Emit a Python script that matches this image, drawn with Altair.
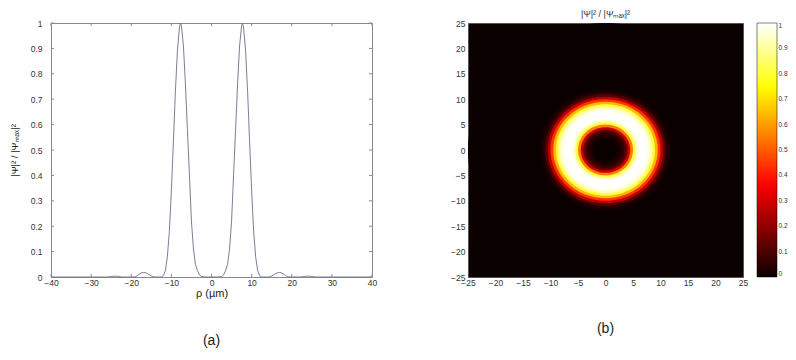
import altair as alt
import pandas as pd

# radial intensity profile |psi|^2/|psi_max|^2, rho >= 0 (um)
RHO = [0, 0.5, 1, 1.5, 2, 2.5, 3, 3.5, 4, 4.5, 5, 5.5, 6, 6.5, 7, 7.5, 7.75,
       8, 8.5, 9, 9.5, 10, 10.5, 11, 11.5, 12, 12.5, 13, 13.5, 14, 14.5, 15,
       15.5, 16, 16.5, 17, 17.5, 18, 18.5, 19, 19.5, 20, 21, 22, 22.5, 23,
       23.5, 24, 24.5, 25, 25.5, 26, 30, 35, 40]
INT = [0, 0, 0, 0, 0.001, 0.002, 0.008, 0.025, 0.05, 0.11, 0.22, 0.40, 0.58,
       0.76, 0.91, 0.99, 1.0,
       0.98, 0.89, 0.73, 0.53, 0.34, 0.18, 0.08, 0.025, 0.005, 0, 0, 0, 0,
       0.001, 0.004, 0.009, 0.014, 0.017, 0.018, 0.016, 0.011, 0.005, 0.001,
       0, 0, 0, 0, 0.0005, 0.002, 0.003, 0.003, 0.003, 0.002, 0.001, 0, 0, 0, 0]

# radial profile of the ring in panel (b), r in um
R_B = [0, 1, 2, 2.5, 3, 3.5, 4, 4.5, 5, 5.5, 6, 6.5, 7, 7.5, 8, 8.5, 9, 9.5,
       10, 10.5, 11, 11.5, 12, 12.5, 13, 25]
I_B = [0, 0, 0, 0.01, 0.03, 0.06, 0.12, 0.28, 0.55, 0.82, 0.95, 1.0, 1.0,
       1.0, 0.98, 0.93, 0.82, 0.64, 0.44, 0.26, 0.11, 0.04, 0.01, 0, 0, 0]

X_TICKS_A = [-40, -30, -20, -10, 0, 10, 20, 30, 40]
Y_TICKS_A = [0, 0.1, 0.2, 0.3, 0.4, 0.5, 0.6, 0.7, 0.8, 0.9, 1]
TICKS_B = [-25, -20, -15, -10, -5, 0, 5, 10, 15, 20, 25]
CBAR_TICKS = [0, 0.1, 0.2, 0.3, 0.4, 0.5, 0.6, 0.7, 0.8, 0.9, 1]

HOT_DOMAIN = [0, 0.365, 0.746, 1]
HOT_RANGE = ["#0b0000", "#ff0000", "#ffff00", "#ffffff"]

TITLE_PSI = "|Ψ|² / |Ψₘₐₓ|²"

FONT = "Liberation Sans"
W_A, W_B, H = 321, 275, 254

# ---------- panel (a) ----------
rho_full = [-r for r in reversed(RHO[1:])] + RHO
int_full = list(reversed(INT[1:])) + INT
df_line = pd.DataFrame({"rho": rho_full, "I": int_full})
df_xt = pd.DataFrame({"rho": X_TICKS_A})
df_yt = pd.DataFrame({"I": Y_TICKS_A})

xa = alt.X("rho:Q", scale=alt.Scale(domain=[-40, 40], nice=False, zero=False),
           axis=alt.Axis(values=X_TICKS_A, labelPadding=1, titlePadding=1,
                         labelOverlap=False, format="~f"),
           title="ρ (µm)")
ya = alt.Y("I:Q", scale=alt.Scale(domain=[0, 1], nice=False),
           axis=alt.Axis(values=Y_TICKS_A, labelPadding=9, titlePadding=11,
                         labelOverlap=False, format="~f"),
           title=TITLE_PSI)

line = alt.Chart(df_line).mark_line(color="#6e6e8c", strokeWidth=0.9).encode(x=xa, y=ya)
tick_col = "#8a8a8a"
tb = alt.Chart(df_xt).mark_rule(color=tick_col).encode(x=xa, y=alt.value(H), y2=alt.value(H - 3))
tt = alt.Chart(df_xt).mark_rule(color=tick_col).encode(x=xa, y=alt.value(0), y2=alt.value(3))
tl = alt.Chart(df_yt).mark_rule(color=tick_col).encode(y=ya, x=alt.value(0), x2=alt.value(3))
tr = alt.Chart(df_yt).mark_rule(color=tick_col).encode(y=ya, x=alt.value(W_A), x2=alt.value(W_A - 3))

panel_a = alt.layer(line, tb, tt, tl, tr).properties(
    width=W_A, height=H,
    view=alt.ViewBackground(stroke="#8a8a8a", strokeWidth=1),
    title=alt.TitleParams("(a)", orient="bottom", fontSize=14, font=FONT,
                          fontWeight="normal", color="#222", offset=35),
)

# ---------- panel (b) ----------
df_ring = pd.DataFrame({"r": R_B, "I": I_B}).sort_values("r", ascending=False)

ry = H / W_B
k = 0.55228
ELLIPSE = (f"M 1 0 C 1 {k*ry:.4f} {k:.4f} {ry:.4f} 0 {ry:.4f} "
           f"C {-k:.4f} {ry:.4f} -1 {k*ry:.4f} -1 0 "
           f"C -1 {-k*ry:.4f} {-k:.4f} {-ry:.4f} 0 {-ry:.4f} "
           f"C {k:.4f} {-ry:.4f} 1 {-k*ry:.4f} 1 0 Z")

xb = alt.X(datum=0, type="quantitative",
           scale=alt.Scale(domain=[-25, 25], nice=False, zero=False),
           axis=alt.Axis(values=TICKS_B, labelPadding=1, titlePadding=1,
                         labelOverlap=False, format="~f"),
           title="y (µm)")
yb = alt.Y(datum=0, type="quantitative",
           scale=alt.Scale(domain=[-25, 25], nice=False, zero=False),
           axis=alt.Axis(values=TICKS_B, labelPadding=3, titlePadding=9,
                         labelOverlap=False, format="~f"),
           title="x (µm)")

rings = alt.Chart(df_ring).mark_point(shape=ELLIPSE, filled=True, opacity=1, strokeWidth=0).encode(
    x=xb, y=yb,
    size=alt.Size("r:Q", scale=alt.Scale(type="pow", exponent=2, domain=[0, 25],
                                         range=[0, (W_B) ** 2]), legend=None),
    color=alt.Color("I:Q", scale=alt.Scale(domain=HOT_DOMAIN, range=HOT_RANGE, interpolate="rgb"),
                    legend=alt.Legend(title=None, values=CBAR_TICKS, orient="right", format="~f",
                                      offset=8, gradientLength=H, gradientThickness=20,
                                      gradientStrokeColor="#000", gradientStrokeWidth=0.5,
                                      labelFontSize=6.5, labelOffset=1.5, labelFont=FONT,
                                      labelColor="#333", labelOverlap=False, direction="vertical")),
    order=alt.Order("r:Q", sort="descending"),
)

title_b = alt.Chart(pd.DataFrame({"t": [TITLE_PSI]})).mark_text(
    fontSize=9, baseline="bottom", font=FONT, color="#333"
).encode(text="t:N", x=alt.value(W_B / 2), y=alt.value(-4))

panel_b = alt.layer(rings, title_b).properties(
    width=W_B, height=H,
    view=alt.ViewBackground(fill="#0b0000", stroke="#555"),
    title=alt.TitleParams("(b)", orient="bottom", fontSize=14, font=FONT,
                          fontWeight="normal", color="#222", offset=35),
)

chart = alt.hconcat(panel_a, panel_b, spacing=72).properties(
    padding={"left": 0, "top": 1, "right": 0, "bottom": 0}
).configure_axis(
    labelFont=FONT, titleFont=FONT, labelFontSize=8.5, titleFontSize=11,
    labelColor="#333", titleColor="#222", titleFontWeight="normal",
    ticks=False, domain=False, grid=False, labelFlush=False, labelOverlap=False,
    labelBound=False,
).configure_axisY(titleFontSize=9.5).configure_view(stroke="#8a8a8a")

chart.save("out.html", embed_options={"renderer": "svg", "actions": False})
